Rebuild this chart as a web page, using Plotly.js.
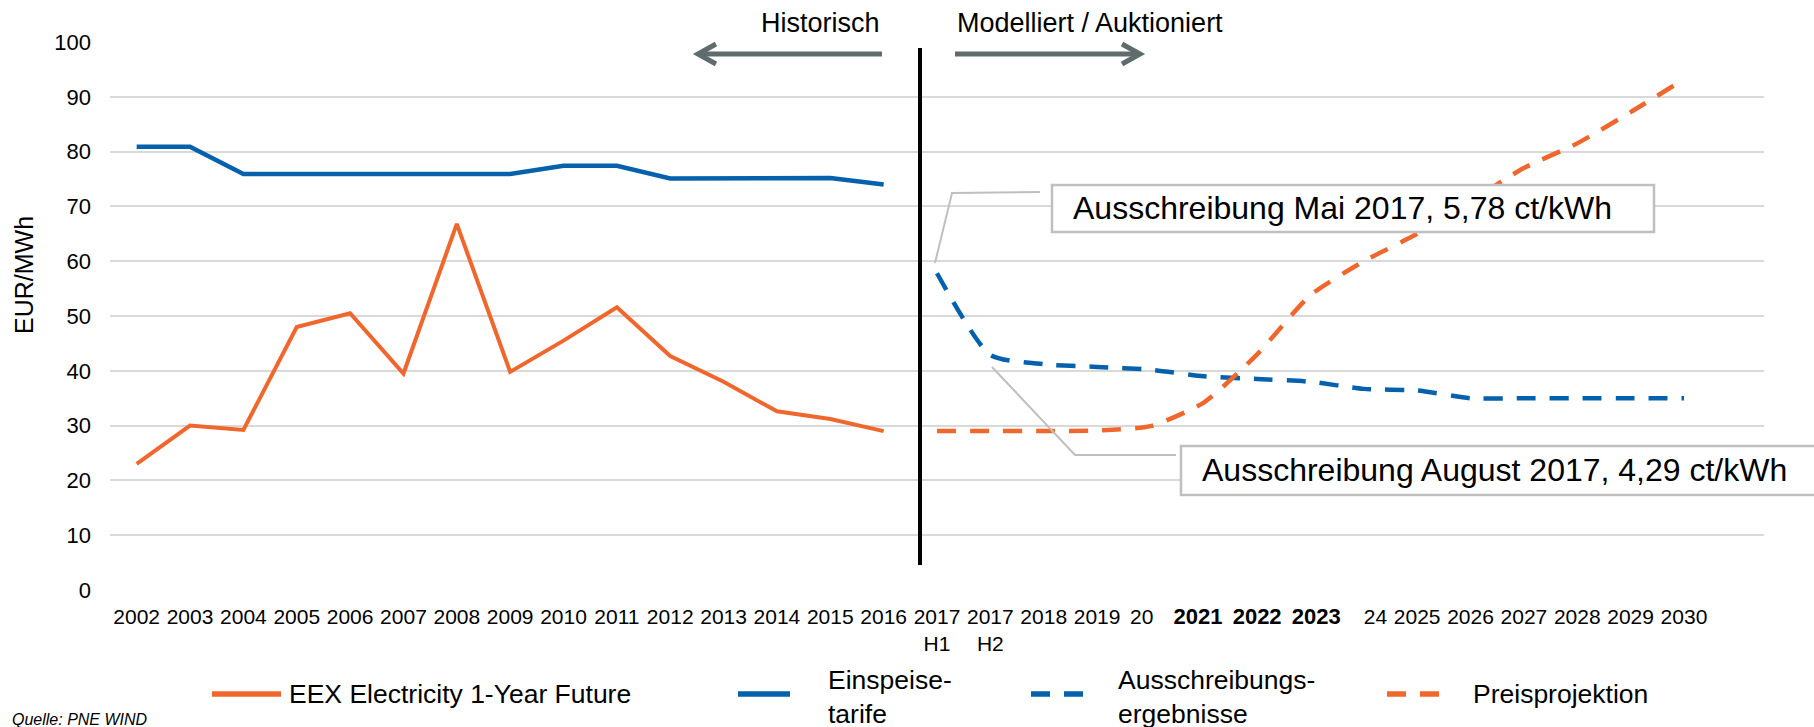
<!DOCTYPE html>
<html>
<head>
<meta charset="utf-8">
<script src="https://cdn.plot.ly/plotly-3.0.1.min.js"></script>
<style>
  html, body { margin: 0; padding: 0; background: #fff; }
  #chart { width: 1814px; height: 727px; }
</style>
</head>
<body>
<div id="chart"></div>
<script>
// ---- Data ----
const NB = '\u00A0';
const categories = ['2002','2003','2004','2005','2006','2007','2008','2009','2010','2011','2012','2013','2014','2015','2016',
  '2017 H1','2017 H2','2018','2019','2020','2021','2022','2023','2024','2025','2026','2027','2028','2029','2030'];
const tickLabels = ['2002','2003','2004','2005','2006','2007','2008','2009','2010','2011','2012','2013','2014','2015','2016',
  '2017<br>H1','2017<br>H2','2018','2019','20' + NB + NB + NB,
  '<span style="font-size:22px"><b>2021</b></span>' + NB + NB,
  '<span style="font-size:22px"><b>2022</b></span>',
  NB + NB + '<span style="font-size:22px"><b>2023</b></span>',
  NB + NB + NB + NB + '24','2025','2026','2027','2028','2029','2030'];
const eexFuture = [23.0, 30.0, 29.2, 48.0, 50.5, 39.5, 66.8, 39.8, 45.5, 51.6, 42.7, 38.0, 32.6, 31.2, 29.0,
  null, null, null, null, null, null, null, null, null, null, null, null, null, null, null];
const einspeisetarife = [80.9, 80.9, 75.9, 75.9, 75.9, 75.9, 75.9, 75.9, 77.4, 77.4, 75.1, 75.1, 75.2, 75.2, 74.0,
  null, null, null, null, null, null, null, null, null, null, null, null, null, null, null];
const ausschreibung = [null, null, null, null, null, null, null, null, null, null, null, null, null, null, null,
  57.8, 42.9, 41.2, 40.7, 40.2, 39.0, 38.5, 38.0, 36.7, 36.4, 35.0, 35.0, 35.0, 35.0, 35.0];
const preisprojektion = [null, null, null, null, null, null, null, null, null, null, null, null, null, null, null,
  29.0, 29.0, 29.0, 29.1, 29.9, 34.2, 43.0, 53.8, 60.0, 65.0, 71.0, 77.0, 81.5, 87.2, 93.2];
const seriesNames = ['EEX Electricity 1-Year Future', 'Einspeise-<br>tarife', 'Ausschreibungs-<br>ergebnisse', 'Preisprojektion'];

// ---- Styling ----
const ORANGE = '#F0672E';
const BLUE = '#0561AC';
const GRID = '#D9D9D9';
const ARROW = '#5F6B6D';
const BOXLINE = '#BFBFBF';
const FONT = 'Liberation Sans, Arial, sans-serif';

// plot area in pixels
const L = 110, R = 1764, T = 42, B = 590;
const W = R - L, H = B - T;
const px = x => (x - L) / W;
const py = y => (B - y) / H;

const traces = [
  { x: categories, y: eexFuture, name: seriesNames[0], mode: 'lines', line: { color: ORANGE, width: 4 } },
  { x: categories, y: einspeisetarife, name: seriesNames[1], mode: 'lines', line: { color: BLUE, width: 4.5 } },
  { x: categories, y: ausschreibung, name: seriesNames[2], mode: 'lines', line: { color: BLUE, width: 4.5, dash: '19px,14px', shape: 'spline', smoothing: 0.6 } },
  { x: categories, y: preisprojektion, name: seriesNames[3], mode: 'lines', line: { color: ORANGE, width: 4.5, dash: '19px,14px', shape: 'spline', smoothing: 0.6 } }
];

function lineShape(x0, y0, x1, y1, color, width, dash) {
  return { type: 'line', xref: 'paper', yref: 'paper', x0: px(x0), y0: py(y0), x1: px(x1), y1: py(y1),
    line: { color: color, width: width, dash: dash || 'solid' }, layer: 'above' };
}
function pathShape(points, color, width) {
  const d = points.map((p, i) => (i ? 'L' : 'M') + px(p[0]).toFixed(5) + ',' + py(p[1]).toFixed(5)).join(' ');
  return { type: 'path', xref: 'paper', yref: 'paper', path: d, line: { color: color, width: width }, layer: 'above' };
}
function rectShape(x0, y0, x1, y1) {
  return { type: 'rect', xref: 'paper', yref: 'paper', x0: px(x0), y0: py(y0), x1: px(x1), y1: py(y1),
    line: { color: BOXLINE, width: 2.5 }, fillcolor: '#ffffff', layer: 'above' };
}
function txt(text, x, y, size, opts) {
  return Object.assign({ text: text, xref: 'paper', yref: 'paper', x: px(x), y: py(y),
    xanchor: 'left', yanchor: 'middle', showarrow: false, align: 'left',
    font: { family: FONT, size: size, color: '#000' } }, opts || {});
}

const shapes = [
  // divider
  lineShape(920, 48, 920, 565, '#000', 4),
  // arrows
  lineShape(882, 54, 699, 54, ARROW, 5),
  pathShape([[716, 44], [698, 54], [716, 64]], ARROW, 5),
  lineShape(955, 54, 1139, 54, ARROW, 5),
  pathShape([[1122, 44], [1140, 54], [1122, 64]], ARROW, 5),
  // leader lines
  pathShape([[935, 263], [952, 193], [1040, 192]], BOXLINE, 2),
  pathShape([[992, 367], [1075, 455], [1176, 455]], BOXLINE, 2),
  // callout boxes
  rectShape(1052, 185, 1654, 232),
  rectShape(1181, 446, 1840, 495),
  // legend samples
  lineShape(212, 694, 281, 694, ORANGE, 5.5),
  lineShape(738, 694, 790, 694, BLUE, 5.5),
  lineShape(1031, 694, 1083, 694, BLUE, 5.5, '19px,14px'),
  lineShape(1387, 694, 1439, 694, ORANGE, 5.5, '19px,14px')
];

const annotations = [
  txt('Historisch', 882, 23, 27, { xanchor: 'right', align: 'right' }),
  txt('Modelliert / Auktioniert', 955, 23, 27),
  txt('Ausschreibung Mai 2017, 5,78 ct/kWh', 1071, 208, 32),
  txt('Ausschreibung August 2017, 4,29 ct/kWh', 1200, 470, 32),
  txt('EUR/MWh', 24, 275, 25, { xanchor: 'center', textangle: -90 }),
  txt(seriesNames[0], 287, 694, 26.5),
  txt(seriesNames[1], 826, 697, 26.5),
  txt(seriesNames[2], 1116, 697, 26.5),
  txt(seriesNames[3], 1471, 694, 26.5),
  txt('<i>Quelle: PNE WIND</i>', 10, 719, 16)
];

const layout = {
  width: 1814, height: 727,
  margin: { l: L, r: 1814 - R, t: T, b: 727 - B, pad: 0 },
  paper_bgcolor: '#fff', plot_bgcolor: '#fff',
  showlegend: false,
  font: { family: FONT, color: '#000' },
  xaxis: {
    type: 'category', categoryorder: 'array', categoryarray: categories,
    range: [-0.5, 30.5], tickvals: categories, ticktext: tickLabels,
    showgrid: false, zeroline: false, showline: false, ticks: '',
    tickfont: { family: FONT, size: 21, color: '#000' }, tickangle: 0,
    ticklabelstandoff: 12, automargin: false, fixedrange: true
  },
  yaxis: {
    range: [0, 100], tickvals: [0,10,20,30,40,50,60,70,80,90,100],
    showgrid: true, gridcolor: GRID, gridwidth: 2, zeroline: false, showline: false, ticks: '',
    tickfont: { family: FONT, size: 22, color: '#000' },
    ticklabelstandoff: 18, automargin: false, fixedrange: true
  },
  shapes: shapes,
  annotations: annotations
};

Plotly.newPlot('chart', traces, layout, { staticPlot: true, displayModeBar: false });
</script>
</body>
</html>
